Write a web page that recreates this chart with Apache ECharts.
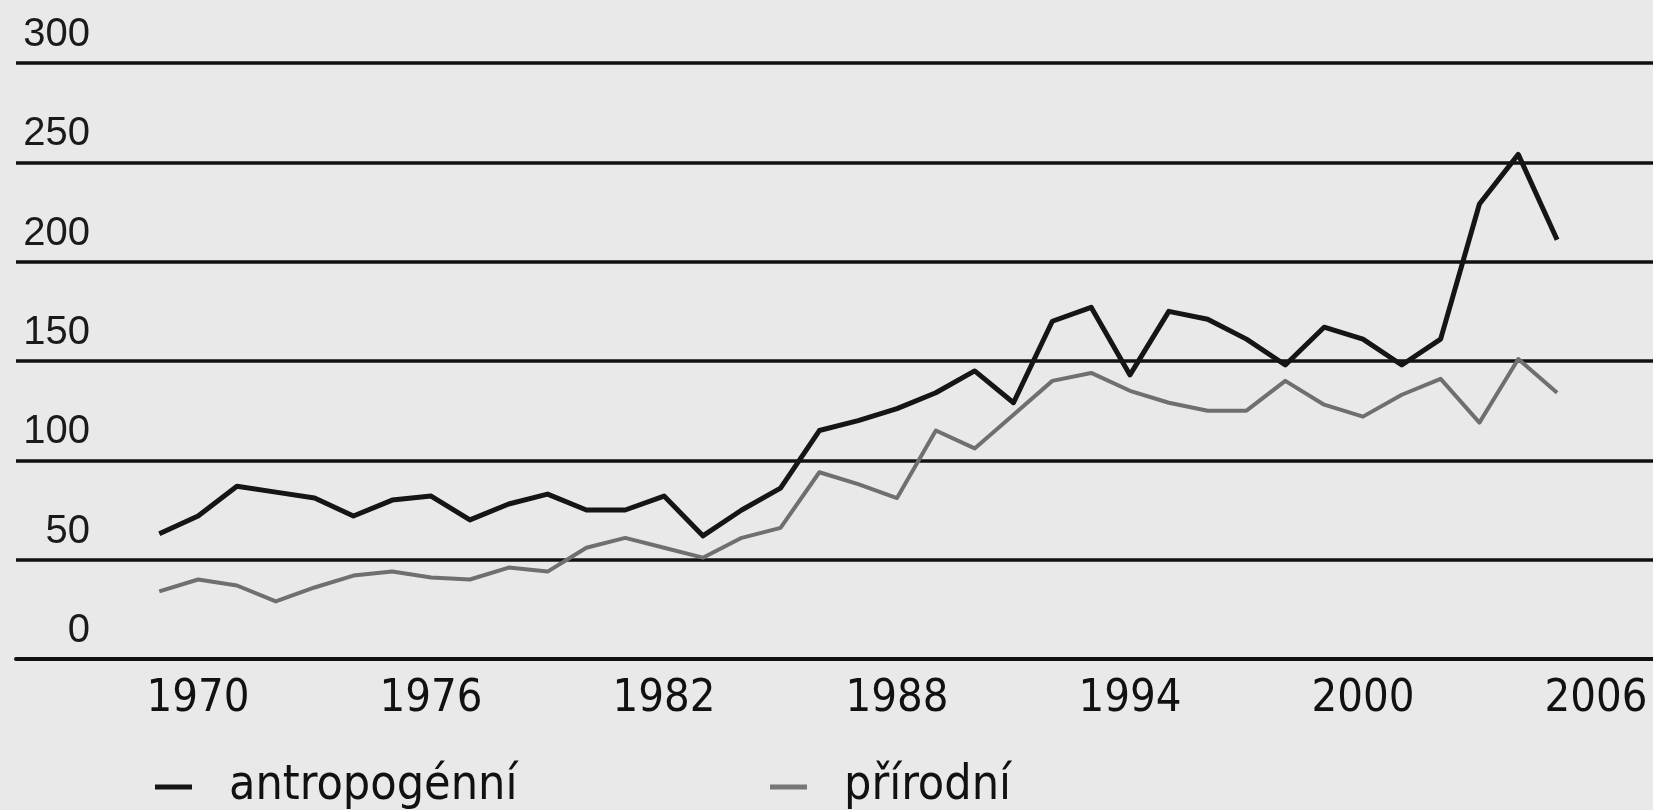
<!DOCTYPE html>
<html>
<head>
<meta charset="utf-8">
<title>antropogénní / přírodní</title>
<script src="https://cdn.jsdelivr.net/npm/echarts@6/dist/echarts.min.js"></script>
<style>
  html, body { margin: 0; padding: 0; background: #e9e9e9; }
  #chart { width: 1653px; height: 810px; }
</style>
</head>
<body>
<div id="chart"></div>
<script>
// roky
const years = [
  1969, 1970, 1971, 1972, 1973, 1974, 1975, 1976, 1977, 1978,
  1979, 1980, 1981, 1982, 1983, 1984, 1985, 1986, 1987, 1988,
  1989, 1990, 1991, 1992, 1993, 1994, 1995, 1996, 1997, 1998,
  1999, 2000, 2001, 2002, 2003, 2004, 2005
];
// antropogénní (černá)
const antropogenni = [
  63, 72, 87, 84, 81, 72, 80, 82, 70, 78,
  83, 75, 75, 82, 62, 75, 86, 115, 120, 126,
  134, 145, 129, 170, 177, 143, 175, 171, 161, 148,
  167, 161, 148, 161, 229, 254, 211
];
// přírodní (šedá)
const prirodni = [
  34, 40, 37, 29, 36, 42, 44, 41, 40, 46,
  44, 56, 61, 56, 51, 61, 66, 94, 88, 81,
  115, 106, 123, 140, 144, 135, 129, 125, 125, 140,
  128, 122, 133, 141, 119, 151, 134
];
const xTicks = [1970, 1976, 1982, 1988, 1994, 2000, 2006];
const seriesNames = ["antropogénní", "přírodní"];

const narrowFont = "'Liberation Sans Narrow', 'Arial Narrow', 'DejaVu Sans Condensed', 'Liberation Sans', sans-serif";

function pairs(values) {
  return years.map((y, i) => [y, values[i]]);
}

const chart = echarts.init(document.getElementById("chart"), null, { renderer: "canvas" });

// legenda - dvě samostatné položky
function legendItem(name, left) {
  return {
    data: [name],
    left: left,
    top: 758,
    icon: "rect",
    itemWidth: 37,
    itemHeight: 5,
    textStyle: {
      fontFamily: narrowFont,
      fontSize: 48,
      color: "#111",
      padding: [0, 0, 0, 32],
    },
  };
}

const options = {
  backgroundColor: "#e9e9e9",
  animation: false,
  grid: {
    left: 16,
    right: 0,
    top: 63,
    bottom: 151,
    containLabel: false,
    outerBoundsMode: "none",
  },
  legend: [legendItem(seriesNames[0], 150), legendItem(seriesNames[1], 765)],
  xAxis: {
    type: "value",
    min: 1965.31,
    max: 2007.47,
    axisLine: { show: true, lineStyle: { color: "#111", width: 4 } },
    axisTick: { show: false },
    splitLine: { show: false },
    axisLabel: {
      customValues: xTicks,
      formatter: (v) => String(Math.round(v)),
      fontFamily: narrowFont,
      fontSize: 45,
      color: "#111",
      margin: 18,
    },
  },
  yAxis: {
    type: "value",
    min: 0,
    max: 300,
    interval: 50,
    axisLine: { show: false },
    axisTick: { show: false },
    splitLine: { show: true, lineStyle: { color: "#111", width: 3.5 } },
    axisLabel: {
      inside: true,
      align: "right",
      verticalAlign: "bottom",
      margin: 74,
      padding: [0, 0, 8, 0],
      fontFamily: "'Liberation Sans', Arial, sans-serif",
      fontSize: 40,
      color: "#1a1a1a",
    },
  },
  series: [
    {
      name: seriesNames[1],
      type: "line",
      symbol: "none",
      z: 3,
      itemStyle: { color: "#777" },
      lineStyle: { color: "#6f6f6f", width: 4, join: "round" },
      data: pairs(prirodni),
    },
    {
      name: seriesNames[0],
      type: "line",
      symbol: "none",
      z: 4,
      itemStyle: { color: "#151515" },
      lineStyle: { color: "#151515", width: 5, join: "round" },
      data: pairs(antropogenni),
    },
  ],
};
chart.setOption(options);
</script>
</body>
</html>
